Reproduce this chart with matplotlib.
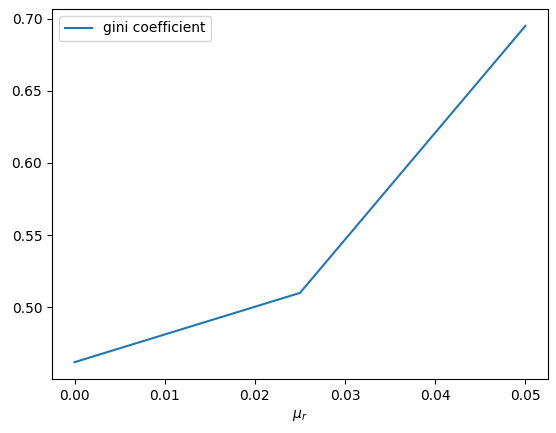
import matplotlib
matplotlib.use("Agg")
import matplotlib.pyplot as plt

# mutation rate values and the resulting gini coefficient
mu_r = [0.0, 0.025, 0.05]
gini = [0.462, 0.510, 0.695]

fig = plt.figure(figsize=(5.56, 4.33), dpi=100)
ax = fig.add_axes([52 / 556, 1 - 379 / 433, (548 - 52) / 556, (379 - 9) / 433])
ax.plot(mu_r, gini, label="gini coefficient")
ax.set_xlabel(r"$\mu_r$")
ax.legend(loc="upper left")
fig.savefig("out.png", dpi=100)
